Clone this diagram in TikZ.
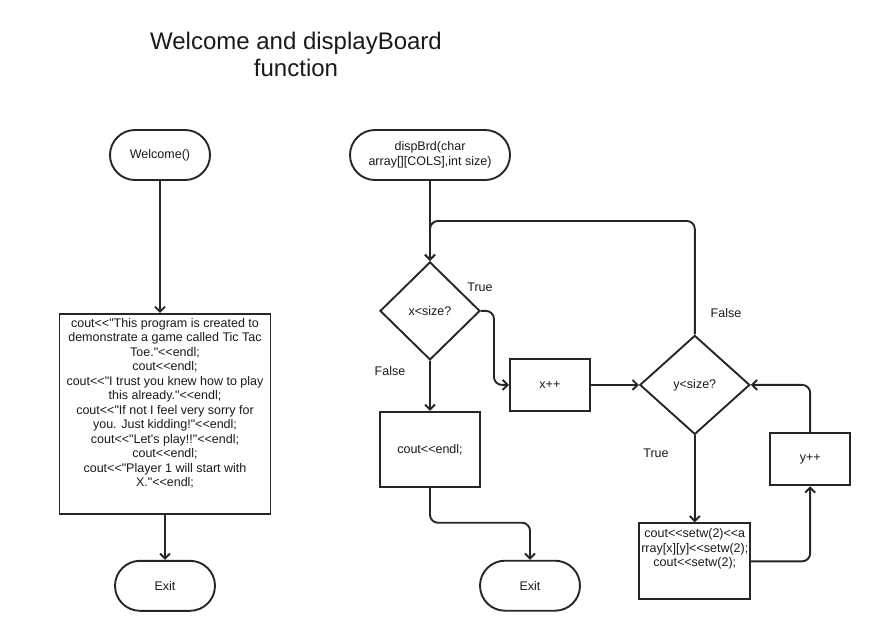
\documentclass[tikz,border=0pt]{standalone}
\usepackage{fontspec}
\newfontfamily\flowfont{Liberation Sans}
\usetikzlibrary{shapes.geometric, arrows.meta, positioning, calc}

\begin{document}
\begin{tikzpicture}[
  x=1pt, y=-1pt,
  node distance=40pt,
  every node/.style={font=\flowfont\fontsize{12.5}{14.5}\selectfont, inner sep=2pt, text=black!90},
  term/.style={draw=black!85, rounded corners=25pt, minimum height=50pt, line width=1.9pt, align=center},
  proc/.style={draw=black!85, rectangle, line width=1.9pt, align=center},
  dec/.style={draw=black!85, diamond, inner sep=0pt, line width=1.9pt},
  arrow/.style={-{Straight Barb[length=5pt,width=10pt]}, draw=black!85, line width=1.9pt},
]
  \useasboundingbox (0,0) rectangle (870,630);

  \node (title) [font=\flowfont\fontsize{24}{27}\selectfont, align=center] at (296,54)
    {Welcome and displayBoard\\function};

  % Welcome()
  \node (w) [term, minimum width=100pt] at (160,155) {Welcome()};
  \node (wbody) [proc, below=132pt of w, xshift=5pt, minimum width=211pt, minimum height=200pt]
    {cout<<"This program is created to\\
     demonstrate a game called Tic Tac\\
     Toe."<<endl;\\
     cout<<endl;\\
     cout<<"I trust you knew how to play\\
     this already."<<endl;\\
     cout<<"If not I feel very sorry for\\
     you. Just kidding!"<<endl;\\
     cout<<"Let's play!!"<<endl;\\
     cout<<endl;\\
     cout<<"Player 1 will start with\\
     X."<<endl;\\[8pt]~};
  \node (wexit) [term, minimum width=100pt, below=45pt of wbody] {Exit};

  % dispBrd()
  \node (d) [term, minimum width=160pt] at (430,155) {dispBrd(char\\array[][COLS],int size)};
  \node (xc) [dec, minimum width=100pt, minimum height=98pt, below=80pt of d] {x<size?};
  \node (xinc) [proc, minimum width=80pt, minimum height=52pt, right=28pt of xc, yshift=-74pt] {x++};
  \node (yc) [dec, minimum width=110pt, minimum height=99pt, right=48pt of xinc] {y<size?};
  \node (yset) [proc, minimum width=110pt, minimum height=76pt, below=87pt of yc]
    {cout<<setw(2)<<a\\rray[x][y]<<setw(2);\\cout<<setw(2);\\[13pt]~};
  \node (yinc) [proc, minimum width=80pt, minimum height=52pt, right=18pt of yset, yshift=102pt] {y++};
  \node (xend) [proc, minimum width=100pt, minimum height=75pt, below=50pt of xc] {cout<<endl;};
  \node (xexit) [term, minimum width=100pt, below=72pt of xend, xshift=100pt] {Exit};

  \node (t1) at (480,287) {True};
  \node (f1) at (390,371) {False};
  \node (f2) at (726,313) {False};
  \node (t2) at (656,453) {True};

  \coordinate (loop) at ($(d.south)!.5!(xc.north)$);

  \draw[arrow] (w) -- (w |- wbody.north);
  \draw[arrow] (wbody) -- (wexit);
  \draw[arrow] (d) -- (xc);
  \draw[arrow, rounded corners=8pt] (yc.north) |- (loop) -- (xc.north);
  \draw[arrow, rounded corners=8pt] (xc.east) -- ++(13,0) |- (xinc.west);
  \draw[arrow] (xinc) -- (yc);
  \draw[arrow] (xc) -- (xend);
  \draw[arrow, rounded corners=8pt] (xend.south) -- ++(0,35) -| (xexit.north);
  \draw[arrow] (yc) -- (yset);
  \draw[arrow, rounded corners=8pt] (yset.east) -| (yinc.south);
  \draw[arrow, rounded corners=8pt] (yinc.north) |- (yc.east);
\end{tikzpicture}
\end{document}
